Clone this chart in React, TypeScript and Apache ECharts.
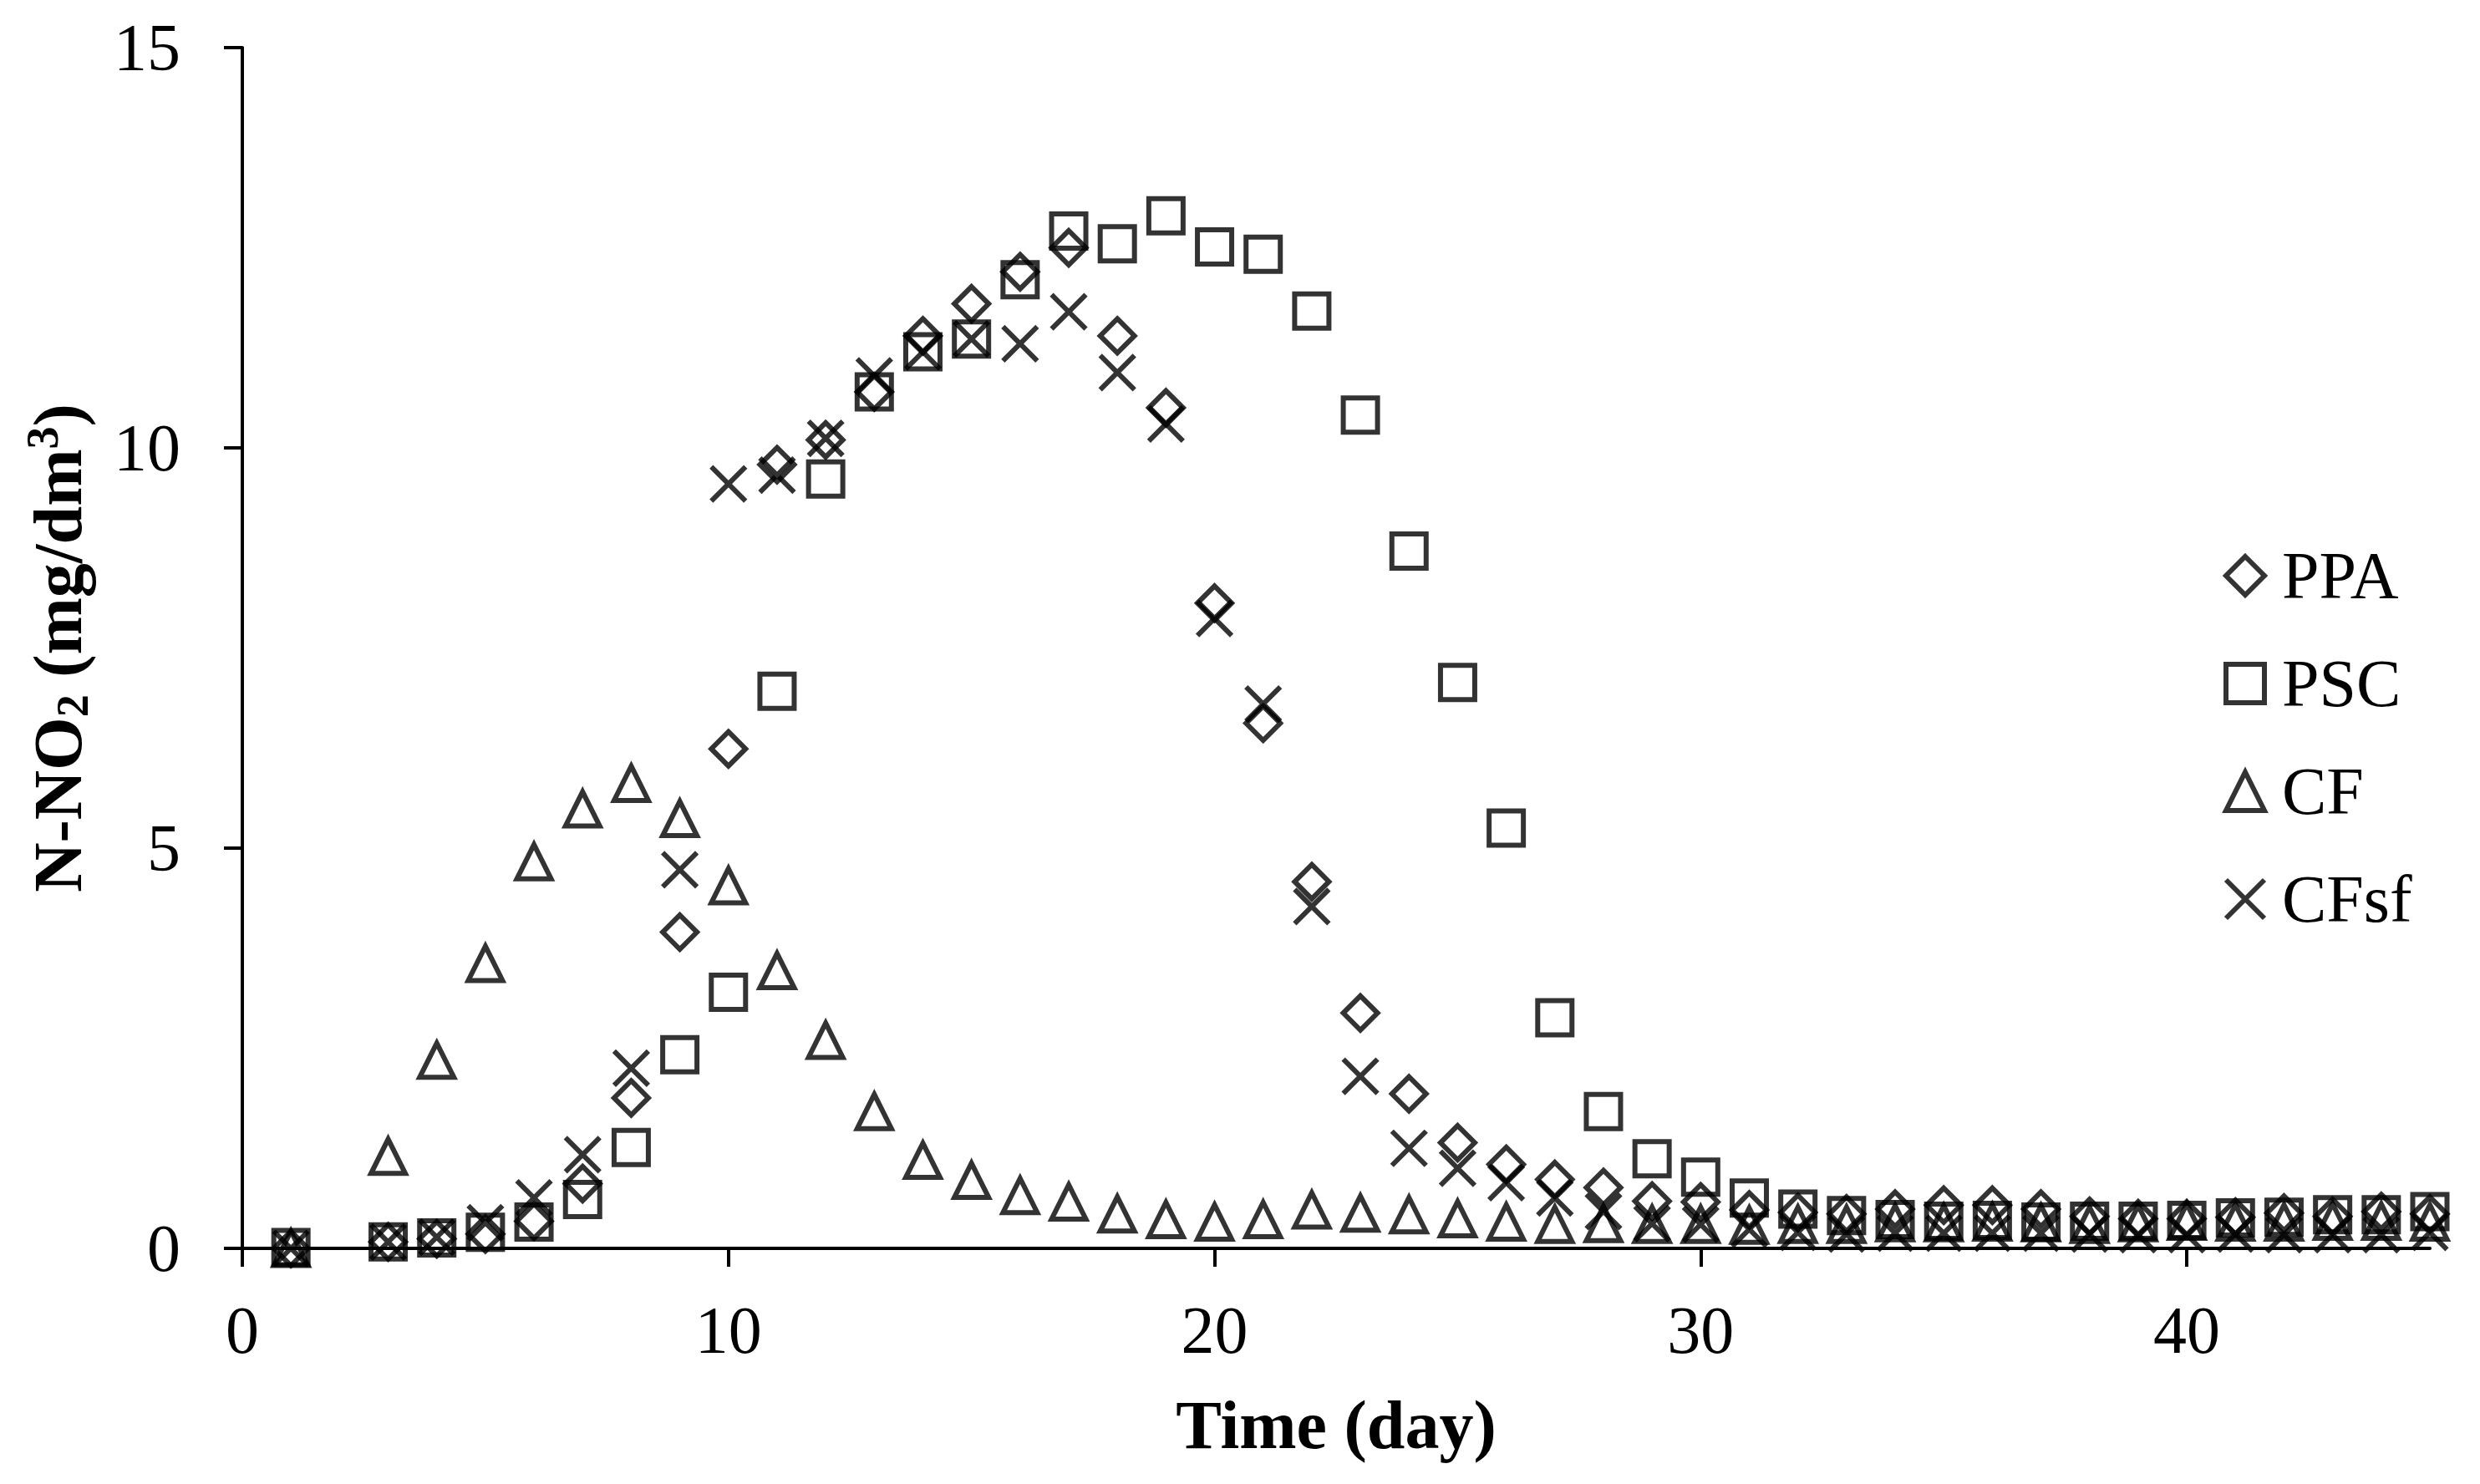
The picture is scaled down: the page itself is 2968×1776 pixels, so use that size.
import React, { useEffect, useRef } from "react";
import * as echarts from "echarts";

const days = [1, 3, 4, 5, 6, 7, 8, 9, 10, 11, 12, 13, 14, 15, 16, 17, 18, 19, 20, 21, 22, 23, 24, 25, 26, 27, 28, 29, 30, 31, 32, 33, 34, 35, 36, 37, 38, 39, 40, 41, 42, 43, 44, 45];

const ppa = [0.0, 0.08, 0.12, 0.18, 0.34, 0.81, 1.88, 3.95, 6.24, 9.79, 10.1, 10.7, 11.4, 11.8, 12.2, 12.5, 11.4, 10.5, 8.06, 6.56, 4.58, 2.94, 1.93, 1.32, 1.05, 0.86, 0.76, 0.59, 0.58, 0.48, 0.45, 0.43, 0.49, 0.54, 0.54, 0.49, 0.4, 0.37, 0.37, 0.39, 0.44, 0.4, 0.46, 0.43];

const psc = [0.01, 0.08, 0.13, 0.2, 0.33, 0.61, 1.26, 2.42, 3.2, 6.96, 9.61, 10.7, 11.2, 11.36, 12.1, 12.71, 12.55, 12.9, 12.51, 12.42, 11.71, 10.41, 8.71, 7.07, 5.25, 2.88, 1.71, 1.12, 0.89, 0.63, 0.49, 0.41, 0.36, 0.34, 0.35, 0.33, 0.34, 0.34, 0.35, 0.38, 0.39, 0.42, 0.42, 0.46];

const cf = [0.0, 1.15, 2.35, 3.56, 4.83, 5.49, 5.81, 5.37, 4.53, 3.47, 2.6, 1.71, 1.1, 0.85, 0.66, 0.58, 0.43, 0.36, 0.33, 0.36, 0.48, 0.44, 0.42, 0.37, 0.33, 0.3, 0.31, 0.3, 0.3, 0.29, 0.3, 0.3, 0.32, 0.32, 0.33, 0.32, 0.3, 0.32, 0.34, 0.33, 0.33, 0.34, 0.34, 0.33];

const cfsf = [0.0, 0.08, 0.14, 0.32, 0.63, 1.17, 2.25, 4.73, 9.55, 9.66, 10.12, 10.9, 11.2, 11.36, 11.3, 11.7, 10.94, 10.3, 7.87, 6.8, 4.27, 2.15, 1.25, 1.0, 0.82, 0.63, 0.46, 0.31, 0.3, 0.24, 0.2, 0.18, 0.19, 0.19, 0.19, 0.19, 0.18, 0.17, 0.17, 0.18, 0.17, 0.17, 0.17, 0.2];

const seriesNames = ["PPA", "PSC", "CF", "CFsf"];
const xTicks = [0, 10, 20, 30, 40];
const yTicks = [0, 5, 10, 15];

const FONT = '"Liberation Serif", "Times New Roman", serif';
const CROSS = "path://M0 0L40 40M40 0L0 40";

function pairs(ys: number[]) {
  return days.map((d, i) => [d, ys[i]]);
}

export default function App() {
  const ref = useRef<HTMLDivElement>(null);

  useEffect(() => {
    if (!ref.current) return;
    const chart = echarts.init(ref.current, undefined, { renderer: "svg" });

    const markerStyle = {
      color: "rgba(0,0,0,0)",
      borderColor: "#000",
      borderWidth: 6,
    };

    const mk = (name: string, data: number[], symbol: string) => ({
      name,
      type: "scatter",
      data: pairs(data),
      symbol,
      symbolSize: 41,
      symbolKeepAspect: true,
      itemStyle: markerStyle,
      emphasis: { disabled: true },
    });

    const titleBase = {
      fontFamily: FONT,
      fontWeight: "bold",
      color: "#000",
    };

    chart.setOption({
      animation: false,
      backgroundColor: "#fff",
      grid: { left: 290, right: 60, top: 57, bottom: 282, containLabel: false },
      legend: {
        orient: "vertical",
        left: 2661,
        top: 649,
        padding: 0,
        itemWidth: 46,
        itemHeight: 46,
        itemGap: 49,
        selectedMode: false,
        symbolKeepAspect: true,
        data: seriesNames,
        itemStyle: {
          color: "rgba(0,0,0,0)",
          borderColor: "#000",
          borderWidth: 6,
        },
        textStyle: {
          fontFamily: FONT,
          fontSize: 80,
          lineHeight: 80,
          color: "#000",
          padding: [0, 0, 0, 16],
        },
      },
      xAxis: {
        type: "value",
        min: 0,
        max: 45,
        interval: 10,
        name: "Time (day)",
        nameLocation: "middle",
        nameGap: 166,
        nameTextStyle: { ...titleBase, fontSize: 82, lineHeight: 90 },
        axisLine: { show: true, onZero: false, lineStyle: { color: "#000", width: 4 } },
        axisTick: {
          show: true,
          inside: false,
          length: 22,
          lineStyle: { color: "#000", width: 4 },
          customValues: xTicks,
        },
        axisLabel: {
          fontFamily: FONT,
          fontSize: 80,
          lineHeight: 80,
          color: "#000",
          margin: 58,
          customValues: xTicks,
        },
        splitLine: { show: false },
      },
      yAxis: {
        type: "value",
        min: 0,
        max: 15,
        interval: 5,
        name: "{b|N-NO}{sub|2}{b| (mg/dm}{sup|3}{b|)}",
        nameLocation: "middle",
        nameGap: 176,
        nameTextStyle: {
          ...titleBase,
          fontSize: 82,
          lineHeight: 90,
          rich: {
            b: { ...titleBase, fontSize: 82, lineHeight: 90 },
            sub: { ...titleBase, fontSize: 54, lineHeight: 58, verticalAlign: "bottom" },
            sup: { ...titleBase, fontSize: 54, lineHeight: 58, verticalAlign: "top" },
          },
        },
        axisLine: { show: true, onZero: false, lineStyle: { color: "#000", width: 4 } },
        axisTick: {
          show: true,
          inside: false,
          length: 22,
          lineStyle: { color: "#000", width: 4 },
          customValues: yTicks,
        },
        axisLabel: {
          fontFamily: FONT,
          fontSize: 80,
          lineHeight: 80,
          color: "#000",
          margin: 74,
          customValues: yTicks,
        },
        splitLine: { show: false },
      },
      series: [
        mk("PPA", ppa, "diamond"),
        mk("PSC", psc, "rect"),
        mk("CF", cf, "triangle"),
        mk("CFsf", cfsf, CROSS),
      ],
    });

    return () => {
      chart.dispose();
    };
  }, []);

  return (
    <div
      ref={ref}
      style={{ position: "fixed", left: 0, top: 0, width: "2968px", height: "1776px", background: "#fff" }}
    />
  );
}
